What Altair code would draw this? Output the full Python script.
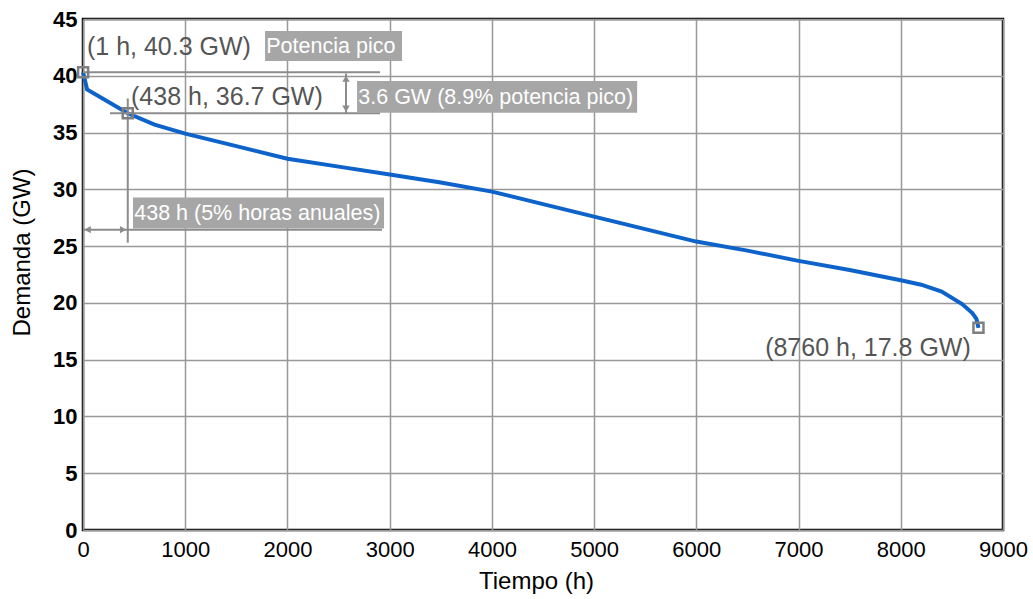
import altair as alt
import pandas as pd

# Load duration curve
hours = [1, 40, 438, 700, 1000, 1500, 2000, 2500, 3000, 3500, 4000, 4500, 5000, 5500,
         6000, 6500, 7000, 7500, 8000, 8200, 8400, 8600, 8700, 8740, 8760]
demand = [40.3, 38.8, 36.7, 35.7, 34.9, 33.8, 32.7, 32.0, 31.3, 30.6, 29.8, 28.7, 27.6, 26.5,
          25.4, 24.6, 23.7, 22.9, 22.0, 21.6, 21.0, 19.9, 19.1, 18.6, 17.8]

# Highlighted points
pt_h = [1, 438, 8760]
pt_d = [40.3, 36.7, 17.8]

# Point labels
lab_text = ["(1 h, 40.3 GW)", "(438 h, 36.7 GW)", "(8760 h, 17.8 GW)"]
lab_x = [39, 470, 6673]
lab_y = [42.5, 38.1, 16.0]

# Boxed notes
box_text = ["Potencia pico", "3.6 GW (8.9% potencia pico)", "438 h (5% horas anuales)"]
box_x0 = [1781, 2681, 489]
box_x1 = [3121, 5421, 2945]
box_y0 = [41.3, 36.74, 26.54]
box_y1 = [43.95, 39.55, 29.27]

# Guide segments
seg_x0 = [0, 264, 438, 0, 2573]
seg_x1 = [2906, 2906, 438, 2925, 2573]
seg_y0 = [40.3, 36.7, 38.0, 26.45, 40.2]
seg_y1 = [40.3, 36.7, 25.3, 26.45, 36.65]

# Arrow heads
arr_x = [45, 393, 2573, 2573]
arr_y = [26.45, 26.45, 39.75, 37.1]
arr_shape = ["triangle-left", "triangle-right", "triangle-up", "triangle-down"]

curve = pd.DataFrame({"h": hours, "d": demand})
pts = pd.DataFrame({"h": pt_h, "d": pt_d})
labs = pd.DataFrame({"t": lab_text, "x": lab_x, "y": lab_y})
boxes = pd.DataFrame({"t": box_text, "x0": box_x0, "x1": box_x1, "y0": box_y0, "y1": box_y1})
boxes["tx"] = boxes["x0"] + 12
boxes["ty"] = (boxes["y0"] + boxes["y1"]) / 2
segs = pd.DataFrame({"x0": seg_x0, "x1": seg_x1, "y0": seg_y0, "y1": seg_y1})
arrs = pd.DataFrame({"x": arr_x, "y": arr_y, "s": arr_shape})

FONT = "Liberation Sans, Arial, sans-serif"

xs = alt.Scale(domain=[0, 9000], nice=False)
ys = alt.Scale(domain=[0, 45], nice=False)

xax = alt.Axis(values=list(range(0, 9001, 1000)), format="d", title="Tiempo (h)", grid=True,
               gridColor="#999999", gridWidth=1.5, domain=False, ticks=False,
               labelFontSize=22, labelColor="black", labelFont=FONT, labelPadding=9,
               labelFlush=False, titleFontSize=24, titleFont=FONT, titleFontWeight="normal",
               titleColor="black", titlePadding=9, titleX=453)
yax = alt.Axis(values=list(range(0, 46, 5)), title="Demanda (GW)", grid=True,
               gridColor="#999999", gridWidth=1.5, domain=False, ticks=False,
               labelFontSize=22, labelFontWeight="bold", labelColor="black", labelFont=FONT,
               labelPadding=6, titleFontSize=24, titleFont=FONT, titleFontWeight="normal",
               titleColor="black", titleX=-61, titleY=233, titleBaseline="middle",
               titleAngle=270)

line = alt.Chart(curve).mark_line(color="#0d63c9", strokeWidth=4).encode(
    x=alt.X("h:Q", scale=xs, axis=xax),
    y=alt.Y("d:Q", scale=ys, axis=yax),
)

rules = alt.Chart(segs).mark_rule(color="#8c8c8c", strokeWidth=2).encode(
    x=alt.X("x0:Q", scale=xs), x2="x1:Q",
    y=alt.Y("y0:Q", scale=ys), y2="y1:Q",
)

heads = alt.Chart(arrs).mark_point(filled=True, color="#8c8c8c", size=55, opacity=1).encode(
    x=alt.X("x:Q", scale=xs), y=alt.Y("y:Q", scale=ys),
    shape=alt.Shape("s:N", scale=None, legend=None),
)

rects = alt.Chart(boxes).mark_rect(color="#a6a6a6").encode(
    x=alt.X("x0:Q", scale=xs), x2="x1:Q",
    y=alt.Y("y0:Q", scale=ys), y2="y1:Q",
)

btext = alt.Chart(boxes).mark_text(align="left", baseline="middle", color="white",
                                   fontSize=21.5, font=FONT, dy=1).encode(
    x=alt.X("tx:Q", scale=xs), y=alt.Y("ty:Q", scale=ys), text="t:N",
)

ltext = alt.Chart(labs).mark_text(align="left", baseline="middle", color="#555555",
                                  fontSize=25, font=FONT).encode(
    x=alt.X("x:Q", scale=xs), y=alt.Y("y:Q", scale=ys), text="t:N",
)

marks = alt.Chart(pts).mark_point(shape="square", filled=False, color="#7f7f7f",
                                  size=100, strokeWidth=2.5, opacity=1).encode(
    x=alt.X("h:Q", scale=xs), y=alt.Y("d:Q", scale=ys),
)

chart = alt.layer(line, rules, heads, rects, btext, ltext, marks).properties(
    width=920, height=511,
    autosize=alt.AutoSizeParams(type="none"),
    padding={"left": 83, "top": 19, "right": 30, "bottom": 69},
    background="white",
).configure_view(stroke="black", strokeWidth=2.5)

chart.save("out.html", embed_options={"renderer": "svg", "actions": False})
